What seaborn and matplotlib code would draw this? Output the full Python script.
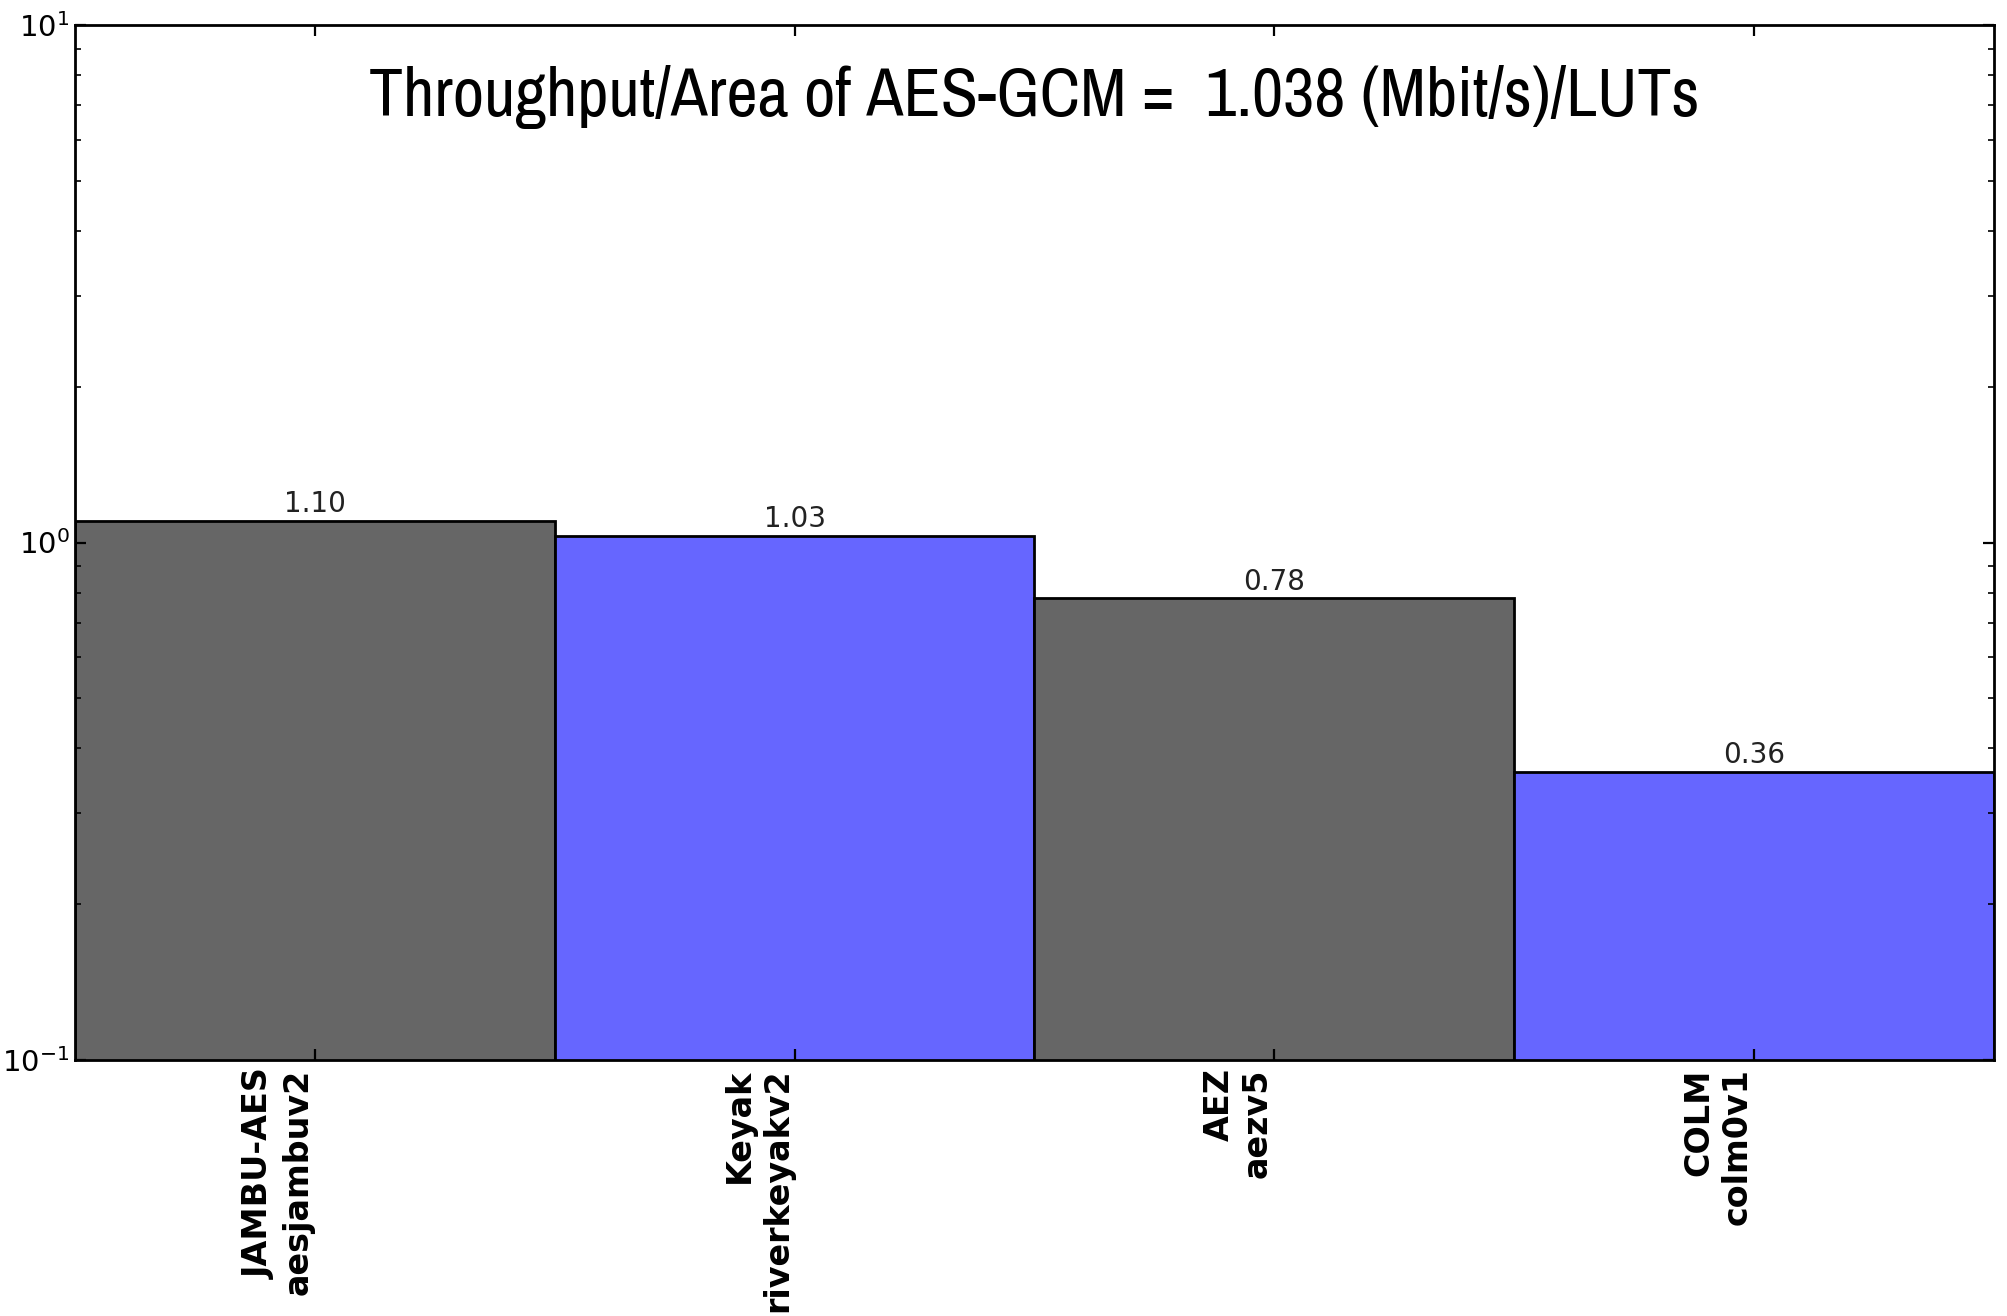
#!/usr/bin/env python3
import seaborn as sns
from matplotlib import pyplot as plt
from matplotlib import font_manager as fm
from matplotlib.transforms import ScaledTranslation
import pandas as pd

# data
families = ["JAMBU-AES", "Keyak", "AEZ", "COLM"]
variants = ["aesjambuv2", "riverkeyakv2", "aezv5", "colm0v1"]
ratios = [1.10, 1.03, 0.78, 0.36]
bar_colors = ["#666666", "#6666ff", "#666666", "#6666ff"]
title = "Throughput/Area of AES-GCM =  1.038 (Mbit/s)/LUTs"

labels = [f"{f}\n{v}" for f, v in zip(families, variants)]
df = pd.DataFrame({"label": labels, "ratio": ratios})

plt.rcParams.update({
    "xtick.direction": "in",
    "ytick.direction": "in",
    "xtick.top": True,
    "ytick.right": True,
    "xtick.major.size": 4,
    "ytick.major.size": 4,
    "ytick.minor.size": 2,
    "axes.linewidth": 1.0,
    "axes.unicode_minus": False,
})

# the title uses a narrow sans face; take one if installed
title_font = None
for f in fm.fontManager.ttflist:
    if ("Narrow" in f.name or "Condensed" in f.name) and f.weight in (400, "normal", "regular") \
            and f.style == "normal":
        title_font = fm.FontProperties(fname=f.fname, size=24.5)
        break
if title_font is None:
    title_font = fm.FontProperties(family="Liberation Sans", size=24.5)

fig = plt.figure(figsize=(10.035, 6.58), dpi=200)
ax = fig.add_axes([0.0374, 0.1945, 0.956, 0.7865])

sns.barplot(data=df, x="label", y="ratio", hue="label", palette=bar_colors,
            width=1.0, edgecolor="black", linewidth=1.0, saturation=1,
            legend=False, ax=ax)

ax.set_yscale("log")
ax.set_ylim(0.1, 10)
ax.set_xlim(-0.5, len(labels) - 0.5)
ax.set_xlabel("")
ax.set_ylabel("")

for cont in ax.containers:
    ax.bar_label(cont, fmt="%.2f", padding=1, fontsize=10, color="#222222")

ax.set_xticks(range(len(labels)))
ax.set_xticklabels(labels, rotation=90, fontweight="bold", fontsize=12,
                   multialignment="right")
ax.tick_params(axis="x", pad=3)
ax.tick_params(axis="y", labelsize=10.5, pad=2)

# old-style placement: the two-line labels sit left of their tick
shift = ScaledTranslation(-0.18, 0, fig.dpi_scale_trans)
for lab in ax.get_xticklabels():
    lab.set_transform(lab.get_transform() + shift)

ax.text(0.5, 0.93, title, transform=ax.transAxes, ha="center", va="center",
        fontproperties=title_font)

fig.savefig("out.png", dpi=200)
